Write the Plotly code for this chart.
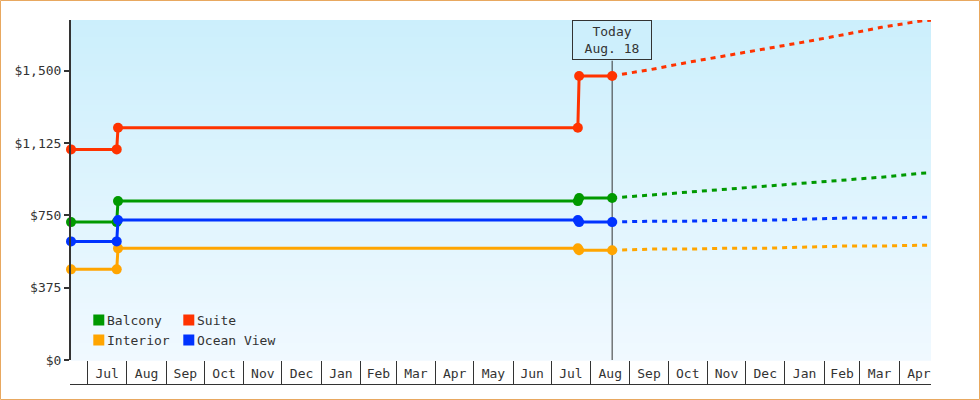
import plotly.graph_objects as go

# ---------------- data ----------------
series_names = ["Balcony", "Suite", "Interior", "Ocean View"]
series_colors = ["#009900", "#ff3300", "#ffa500", "#0033ff"]

hist_dates = ["2024-06-18", "2024-07-24", "2024-07-25",
              "2025-07-22", "2025-07-23", "2025-08-18"]
balcony_hist = [715, 715, 824, 824, 840, 840]
suite_hist = [1092, 1092, 1204, 1204, 1473, 1473]
interior_hist = [470, 470, 579, 579, 569, 569]
ocean_hist = [615, 615, 726, 726, 715, 715]

fc_dates = ["2025-08-18", "2025-09-18", "2025-10-18", "2025-11-18",
            "2025-12-18", "2026-01-18", "2026-02-18", "2026-03-18",
            "2026-04-18", "2026-04-26"]
balcony_fc = [840, 855, 872, 887, 902, 918, 932, 948, 968, 970]
suite_fc = [1473, 1507, 1545, 1580, 1614, 1651, 1689, 1725, 1758, 1762]
interior_fc = [569, 575, 575, 580, 580, 585, 591, 591, 596, 596]
ocean_fc = [715, 720, 720, 725, 725, 730, 736, 736, 741, 741]

y_tick_values = [0, 375, 750, 1125, 1500]
y_tick_labels = ["$0", "$375", "$750", "$1,125", "$1,500"]
y_max = 1763

today_date = "2025-08-18"
today_label = "Today<br>Aug. 18"

hist_series = [balcony_hist, suite_hist, interior_hist, ocean_hist]
fc_series = [balcony_fc, suite_fc, interior_fc, ocean_fc]

# ---------------- layout geometry ----------------
W, H = 980, 400
ML, MR, MT, MB = 71, 49, 20, 40
PW, PH = W - ML - MR, H - MT - MB
FONT = "DejaVu Sans Mono"
TXT = "#333333"


def px_x(p):
    return (p - ML) / PW


def px_y(p):
    return (MT + PH - p) / PH


fig = go.Figure()

for name, col, fc in zip(series_names, series_colors, fc_series):
    fig.add_trace(go.Scatter(
        x=fc_dates, y=fc, mode="lines", name=name, showlegend=False,
        line=dict(color=col, width=3, dash="5px,5px"), cliponaxis=False,
        hoverinfo="skip"))

for name, col, hv in zip(series_names, series_colors, hist_series):
    fig.add_trace(go.Scatter(
        x=hist_dates, y=hv, mode="lines+markers", name=name, showlegend=False,
        line=dict(color=col, width=3), marker=dict(color=col, size=10),
        cliponaxis=False))

shapes = []
# vertical gradient background
top_c = (204, 239, 252)
bot_c = (240, 249, 255)
N = 60
for i in range(N):
    t = i / (N - 1)
    c = tuple(round(top_c[k] + (bot_c[k] - top_c[k]) * t) for k in range(3))
    shapes.append(dict(type="rect", xref="x domain", yref="y domain",
                       x0=0, x1=1, y0=1 - (i + 1) / N - 0.002, y1=1 - i / N,
                       fillcolor="rgb(%d,%d,%d)" % c, line=dict(width=0),
                       layer="below"))

# today line
shapes.append(dict(type="line", xref="x", yref="paper", x0=today_date,
                   x1=today_date, y0=0, y1=px_y(60.7),
                   line=dict(color=TXT, width=1), layer="below"))

# bottom line of month strip
shapes.append(dict(type="line", xref="paper", yref="paper", x0=px_x(70),
                   x1=1, y0=px_y(384.5), y1=px_y(384.5),
                   line=dict(color=TXT, width=1), layer="above"))

# outer border
shapes.append(dict(type="rect", xref="paper", yref="paper",
                   x0=px_x(0.5), x1=px_x(979.5), y0=px_y(399.5), y1=px_y(0.5),
                   line=dict(color="#e8a860", width=1), layer="above"))

annotations = []
# custom legend (2 columns)
leg_cols = [93.3, 183.3]
leg_rows = [320, 340]
for i, (name, col) in enumerate(zip(series_names, series_colors)):
    cx = leg_cols[i % 2]
    cy = leg_rows[i // 2]
    shapes.append(dict(type="rect", xref="paper", yref="paper",
                       x0=px_x(cx), x1=px_x(cx + 11),
                       y0=px_y(cy + 5.5), y1=px_y(cy - 5.5),
                       fillcolor=col, line=dict(width=0), layer="above"))
    annotations.append(dict(x=px_x(cx + 12.5), y=px_y(cy), xref="paper",
                            yref="paper", xanchor="left", yanchor="middle",
                            text=name, showarrow=False, borderpad=0,
                            font=dict(family=FONT, size=13, color=TXT)))

annotations.append(dict(x=today_date, xref="x", y=1, yref="paper",
                        xanchor="center", yanchor="top", text=today_label,
                        showarrow=False, bordercolor=TXT, borderwidth=1,
                        borderpad=0, bgcolor="#cdeffc", width=78, height=38,
                        font=dict(family=FONT, size=13, color=TXT)))

fig.update_layout(
    width=W, height=H,
    margin=dict(l=ML, r=MR, t=MT, b=MB, pad=0),
    paper_bgcolor="white", plot_bgcolor="rgba(0,0,0,0)",
    showlegend=False,
    font=dict(family=FONT, size=13, color=TXT),
    shapes=shapes, annotations=annotations,
)

fig.update_xaxes(
    type="date", range=[hist_dates[0], fc_dates[-1]],
    dtick="M1", tick0="2024-07-01", tickformat="%b",
    ticklabelmode="period", ticks="outside", ticklen=24, tickwidth=1,
    tickcolor=TXT, showgrid=False, zeroline=False, showline=False,
    ticklabelstandoff=-23,
    tickfont=dict(family=FONT, size=13, color=TXT),
)
fig.update_yaxes(
    range=[0, y_max], tickvals=y_tick_values, ticktext=y_tick_labels,
    ticks="outside", ticklen=5, tickwidth=2, tickcolor=TXT,
    showline=True, linewidth=2, linecolor=TXT, showgrid=False,
    zeroline=False, tickfont=dict(family=FONT, size=13, color=TXT),
)

fig.write_html("out.html",
               config={"displayModeBar": False},
               post_script="document.body.style.margin='0';"
                           "document.body.style.padding='0';")
